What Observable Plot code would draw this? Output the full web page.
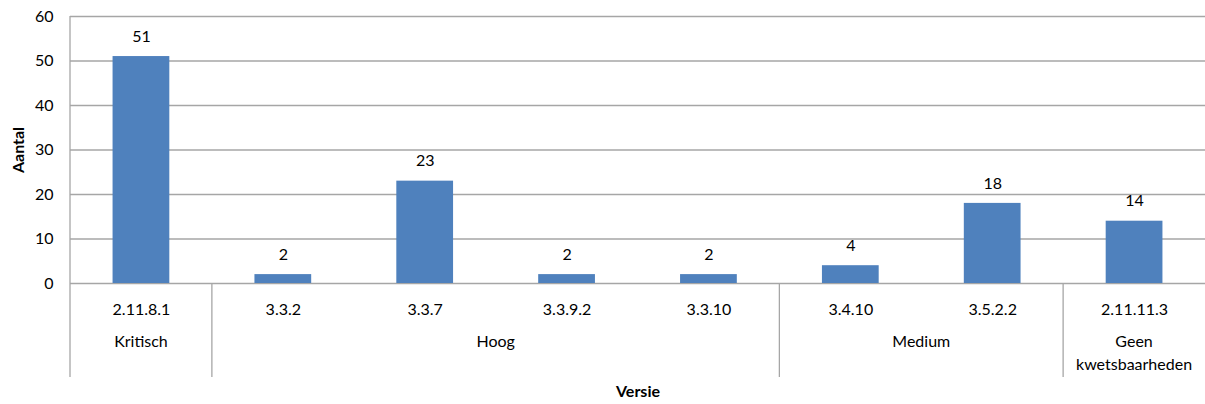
<!DOCTYPE html>
<html>
<head>
<meta charset="utf-8">
<script src="https://cdn.jsdelivr.net/npm/d3@7"></script>
<script src="https://cdn.jsdelivr.net/npm/@observablehq/plot@0.6"></script>
<style>
  html, body { margin: 0; padding: 0; background: #ffffff; }
  #chart svg { font-family: Lato, "Liberation Sans", sans-serif; }
</style>
</head>
<body>
<div id="chart"></div>
<script>
// Versions found, number of vulnerabilities per version, and severity group
const versions = ["2.11.8.1", "3.3.2", "3.3.7", "3.3.9.2", "3.3.10", "3.4.10", "3.5.2.2", "2.11.11.3"];
const counts = [51, 2, 23, 2, 2, 4, 18, 14];
const severities = ["Kritisch", "Hoog", "Hoog", "Hoog", "Hoog", "Medium", "Medium", "Geen kwetsbaarheden"];
const groupLabels = ["Kritisch", "Hoog", "Medium", "Geen\nkwetsbaarheden"];
const yTicks = [0, 10, 20, 30, 40, 50, 60];

const rows = versions.map((v, i) => ({version: v, count: counts[i], severity: severities[i]}));

const gridColor = "#a6a6a6";
const barColor = "#4f81bd";
const fontSize = 16;

const plot = Plot.plot({
  width: 1205,
  height: 404,
  marginLeft: 70,
  marginRight: 0,
  marginTop: 16,
  marginBottom: 121,
  style: {fontSize: fontSize + "px", color: "#000", background: "#fff"},
  x: {domain: versions, paddingInner: 0.6, paddingOuter: 0.3, round: false, axis: null},
  y: {domain: [0, 60], ticks: yTicks, tickSize: 0, tickPadding: 17, label: null},
  marks: [
    Plot.ruleY(yTicks, {stroke: gridColor, strokeWidth: 1.3}),
    Plot.barY(rows, {x: "version", y: "count", fill: barColor}),
    Plot.text(rows, {x: "version", y: "count", text: d => String(d.count), dy: -20, lineAnchor: "middle", fill: "#000"}),
    // version labels below the baseline
    Plot.text(rows, {x: "version", frameAnchor: "bottom", text: "version", lineAnchor: "top", dy: 20, fill: "#000"}),
    // axis titles
    Plot.text(["Aantal"], {frameAnchor: "left", text: d => d, rotate: -90, dx: -52, fontWeight: "bold", lineAnchor: "middle", textAnchor: "middle", fill: "#000"}),
    Plot.text(["Versie"], {frameAnchor: "bottom", text: d => d, dy: 108, fontWeight: "bold", lineAnchor: "middle", fill: "#000"})
  ]
});

document.getElementById("chart").appendChild(plot);

// Severity grouping under the version labels: separators at group edges and centred group names
const sx = plot.scale("x");
const n = versions.length;
const step = sx.step ?? (sx.range[1] - sx.range[0]) / (n - 0.6 + 2 * 0.3);
const bw = sx.bandwidth ?? step * 0.4;
const center = v => sx.apply(v) + bw / 2;
const ys = plot.scale("y");
const y0 = ys.apply(0);
const yTop = ys.apply(60);
const sepBottom = y0 + 94;

const groups = groupLabels.map(label => {
  const key = label.replace("\n", " ");
  const members = versions.filter((v, i) => severities[i] === key);
  const left = center(members[0]) - step / 2;
  const right = center(members[members.length - 1]) + step / 2;
  return {label, left, right};
});

const svg = d3.select(plot);
const g = svg.append("g");

// vertical axis line and group separators
g.append("line")
  .attr("x1", groups[0].left).attr("x2", groups[0].left)
  .attr("y1", yTop).attr("y2", sepBottom)
  .attr("stroke", gridColor).attr("stroke-width", 1.3);
groups.slice(1).forEach(gr => {
  g.append("line")
    .attr("x1", gr.left).attr("x2", gr.left)
    .attr("y1", y0).attr("y2", sepBottom)
    .attr("stroke", gridColor).attr("stroke-width", 1.3);
});

groups.forEach(gr => {
  const t = g.append("text")
    .attr("x", (gr.left + gr.right) / 2)
    .attr("y", y0 + 53)
    .attr("text-anchor", "middle")
    .attr("fill", "#000")
    .attr("font-size", fontSize);
  gr.label.split("\n").forEach((line, i) => {
    t.append("tspan")
      .attr("x", (gr.left + gr.right) / 2)
      .attr("dy", i === 0 ? "0.71em" : "1.4em")
      .text(line);
  });
});
</script>
</body>
</html>
